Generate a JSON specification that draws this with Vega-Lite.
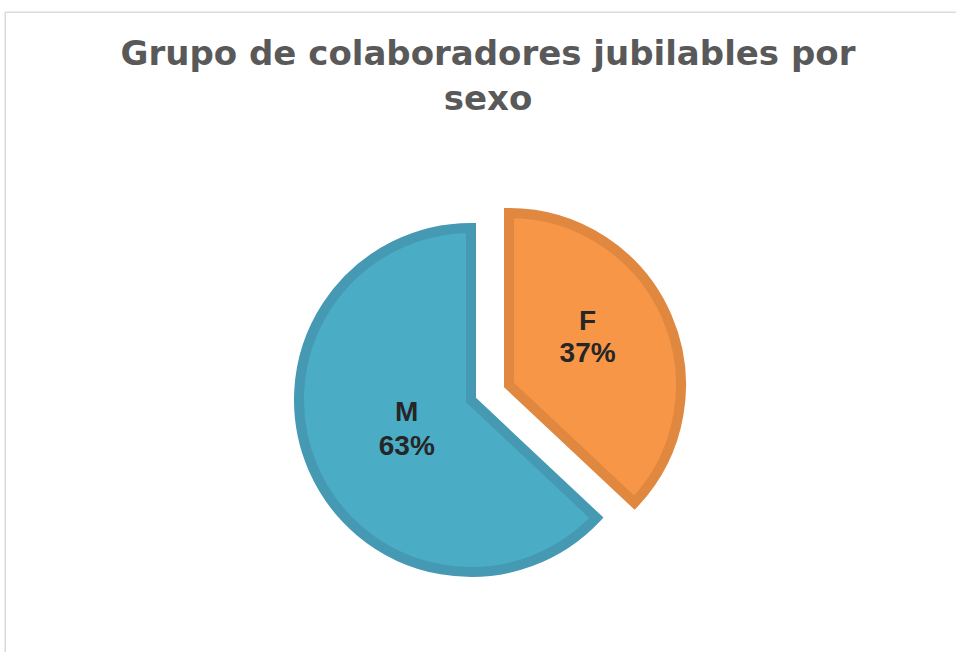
{
  "$schema": "https://vega.github.io/schema/vega-lite/v6.json",
  "width": 951,
  "height": 640,
  "autosize": {"type": "none"},
  "padding": {"left": 5, "top": 12, "right": 0, "bottom": 0},
  "background": "white",
  "title": {
    "text": ["Grupo de colaboradores jubilables por", "sexo"],
    "font": "DejaVu Sans",
    "fontSize": 34,
    "fontWeight": "bold",
    "color": "#595959",
    "anchor": "middle",
    "frame": "group",
    "orient": "top",
    "baseline": "top",
    "offset": 0,
    "dy": 105,
    "dx": 7.5,
    "lineHeight": 45
  },
  "layer": [
    {
      "data": {"values": [{"marco": "borde"}]},
      "mark": {"type": "rule", "stroke": "#D9D9D9", "strokeWidth": 1},
      "encoding": {"x": {"value": 0}}
    },
    {
      "data": {"values": [{"marco": "borde"}]},
      "mark": {"type": "rule", "stroke": "#D9D9D9", "strokeWidth": 1},
      "encoding": {"y": {"value": 0}}
    },
    {
      "data": {"values": [{"sexo": "F", "valor": 0.37}, {"sexo": "M", "valor": 0.63}]},
      "encoding": {
        "theta": {"field": "valor", "type": "quantitative", "stack": true},
        "order": {"field": "sexo", "sort": "ascending"}
      },
      "layer": [
        {
          "mark": {"type": "arc", "radius": 172, "strokeWidth": 10, "strokeJoin": "miter", "xOffset": -9.5, "yOffset": 68},
          "encoding": {
            "fill": {"field": "sexo", "type": "nominal", "scale": {"domain": ["F", "M"], "range": ["#F79646", "#4BACC6"]}, "legend": null},
            "stroke": {"field": "sexo", "type": "nominal", "scale": {"domain": ["F", "M"], "range": ["#E0883F", "#4599B2"]}, "legend": null},
            "opacity": {"condition": {"test": "datum.sexo === 'F'", "value": 0}, "value": 1}
          }
        },
        {
          "mark": {"type": "arc", "radius": 172, "strokeWidth": 10, "strokeJoin": "miter", "xOffset": 28.5, "yOffset": 53},
          "encoding": {
            "fill": {"field": "sexo", "type": "nominal", "legend": null},
            "stroke": {"field": "sexo", "type": "nominal", "legend": null},
            "opacity": {"condition": {"test": "datum.sexo === 'M'", "value": 0}, "value": 1}
          }
        },
        {
          "mark": {"type": "text", "radius": 70, "font": "Liberation Sans", "fontSize": 28, "fontWeight": "bold", "color": "#262626", "xOffset": -9.5, "yOffset": 68, "dy": -15},
          "encoding": {
            "text": {"field": "sexo", "type": "nominal"},
            "opacity": {"condition": {"test": "datum.sexo === 'F'", "value": 0}, "value": 1}
          }
        },
        {
          "mark": {"type": "text", "radius": 70, "font": "Liberation Sans", "fontSize": 28, "fontWeight": "bold", "color": "#262626", "xOffset": -9.5, "yOffset": 68, "dy": 19},
          "encoding": {
            "text": {"field": "valor", "type": "quantitative", "format": ".0%"},
            "opacity": {"condition": {"test": "datum.sexo === 'F'", "value": 0}, "value": 1}
          }
        },
        {
          "mark": {"type": "text", "radius": 90, "font": "Liberation Sans", "fontSize": 28, "fontWeight": "bold", "color": "#262626", "xOffset": 28.5, "yOffset": 53, "dx": -4, "dy": -27.5},
          "encoding": {
            "text": {"field": "sexo", "type": "nominal"},
            "opacity": {"condition": {"test": "datum.sexo === 'M'", "value": 0}, "value": 1}
          }
        },
        {
          "mark": {"type": "text", "radius": 90, "font": "Liberation Sans", "fontSize": 28, "fontWeight": "bold", "color": "#262626", "xOffset": 28.5, "yOffset": 53, "dx": -4, "dy": 4.5},
          "encoding": {
            "text": {"field": "valor", "type": "quantitative", "format": ".0%"},
            "opacity": {"condition": {"test": "datum.sexo === 'M'", "value": 0}, "value": 1}
          }
        }
      ]
    }
  ]
}
